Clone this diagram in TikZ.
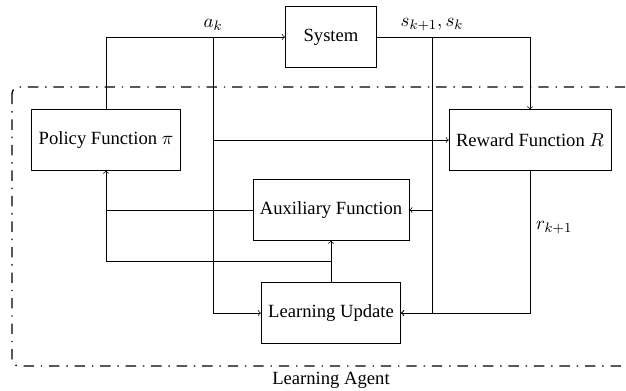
\documentclass[tikz,border=0pt]{standalone}
\usepackage{fontspec}
\setmainfont{Liberation Serif}
\usetikzlibrary{arrows, positioning, calc}
\tikzstyle{block} = [rectangle, minimum height=35pt, inner xsep=4pt, text centered, draw=black]
\tikzstyle{arrow} = [thin,->,>=to]
\tikzstyle{agent} = [thick, rounded corners=4pt, dash pattern=on 6pt off 4pt on 0.8pt off 4pt]

\begin{document}
\begin{tikzpicture}[x=0.58pt, y=-0.58pt, font=\fontsize{10.8pt}{13pt}\selectfont]
\useasboundingbox (0,0) rectangle (626,391);

\node (sys) [block, minimum width=53pt] at (331,37) {System};
\node (policy) [block] at (106,140) {Policy Function $\pi$};
\node (reward) [block] at (530,140) {Reward Function $R$};
\node (aux) [block] at (331,210) {Auxiliary Function};
\node (learn) [block] at (331,313) {Learning Update};

\coordinate (asplit) at (213,37);
\coordinate (ssplit) at (432,37);
\coordinate (fb) at ($(learn.north)!0.5!(aux.south)$);

% learning agent boundary
\draw [agent] (12,87) rectangle (660,366);
\node (agentlbl) at (331,380) {Learning Agent};

\draw [arrow] (policy.north) |- (sys.west);
\node (alabel) [above] at (asplit) {$a_k$};
\draw [arrow] (asplit) |- (learn.west);
\draw [arrow] (asplit |- reward.west) -- (reward.west);

\draw [arrow] (sys.east) -| (reward.north);
\node (slabel) [above] at (ssplit) {$s_{k+1}, s_k$};
\draw [arrow] (ssplit) |- (learn.east);
\draw [arrow] (ssplit |- aux.east) -- (aux.east);

\draw [arrow] (reward.south) |- node[pos=0.2, right] {$r_{k+1}$} (learn.east);

\draw [arrow] (aux.west) -| (policy.south);
\draw [arrow] (learn.north) -- (aux.south);
\draw (fb) -| (policy.south);

\end{tikzpicture}
\end{document}
